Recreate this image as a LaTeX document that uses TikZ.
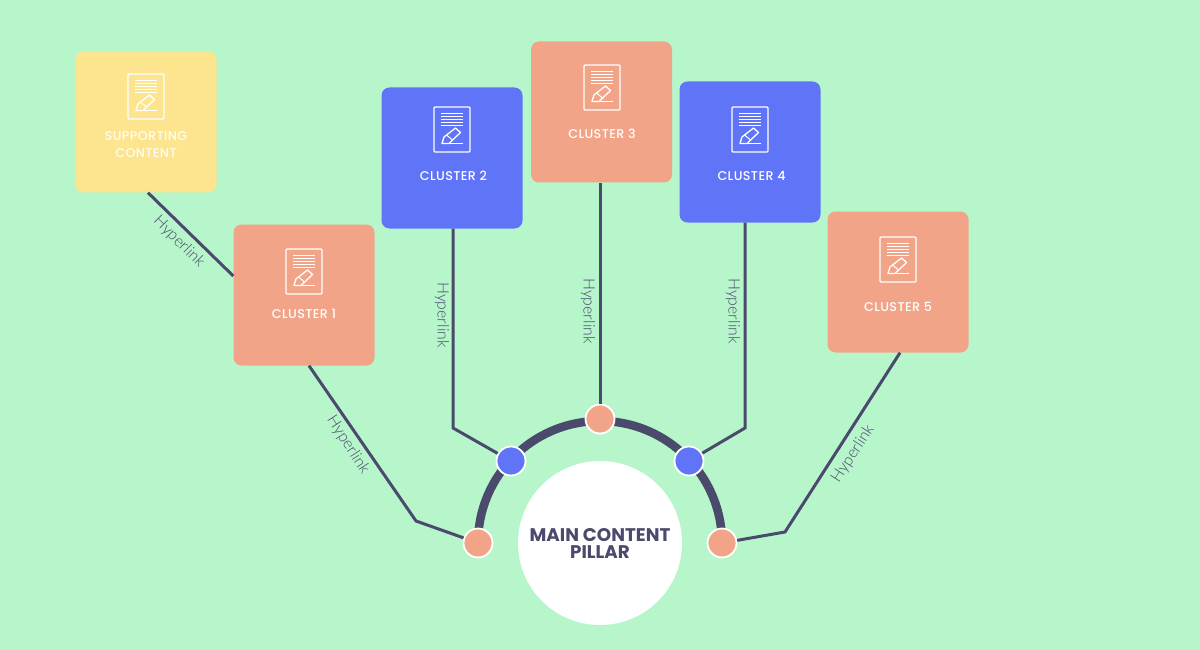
\documentclass[tikz,border=0pt]{standalone}
\usepackage{fontspec}
\setmainfont{Poppins}
\newfontfamily\cardfont[LetterSpace=3]{Poppins Medium}
\newfontfamily\linkfont{Lato Light}
\definecolor{bgc}{HTML}{B7F6CA}
\definecolor{peach}{HTML}{F2A488}
\definecolor{bluec}{HTML}{6074F8}
\definecolor{yell}{HTML}{FCE58E}
\definecolor{ink}{HTML}{4A4A6C}
\tikzset{
  card/.style={rounded corners=8pt,minimum width=141pt,minimum height=141pt,inner sep=0pt},
  cardtext/.style={text=white,font=\cardfont\fontsize{12.7}{16.5}\selectfont,align=center},
  dot/.style={circle,draw=white,line width=1.8pt,minimum size=29pt,inner sep=0pt},
  link/.style={ink,line width=3pt,line join=miter},
  linklabel/.style={text=ink,font=\linkfont\fontsize{15.8}{18}\selectfont,inner sep=0pt},
  pics/docicon/.style={code={
    \draw[white,line width=1.2pt,rounded corners=1pt] (-18,-22.5) rectangle (18,22.5);
    \foreach \yy in {-16,-13,-10,-7,-4}{\draw[white,line width=1pt] (-11,\yy) -- (11,\yy);}
    \draw[white,line width=1.3pt,line join=round] (-10,14) -- (-8,7.5) -- (3.5,-1.5) -- (8.5,3) -- (-3,14) -- cycle;
    \draw[white,line width=1pt] (-5.5,5.5) -- (0,10);
    \draw[white,line width=1.1pt] (-10,14.2) -- (11,14.2);
  }}
}
\begin{document}
\begin{tikzpicture}[x=1pt,y=-1pt]
\useasboundingbox (0,0) rectangle (1200,650);
\fill[bgc] (0,0) rectangle (1200,650);
% hub
\draw[ink,line width=8.5pt] (478,543) arc[start angle=180,end angle=360,radius=122];
\node[circle,fill=white,minimum size=164pt,inner sep=0pt,text=ink,align=center,font=\bfseries\fontsize{18.3}{17}\selectfont] (hub) at (600,543) {MAIN CONTENT\\PILLAR};
\node[dot,fill=peach] (d1) at (478,543) {};
\node[dot,fill=bluec] (d2) at (511,461) {};
\node[dot,fill=peach] (d3) at (600,419) {};
\node[dot,fill=bluec] (d4) at (689,461) {};
\node[dot,fill=peach] (d5) at (722,543) {};
% cards
\node[card,fill=yell] (s) at (146,122) {};
\node[card,fill=peach] (c1) at (304,295) {};
\node[card,fill=bluec] (c2) at (452,158) {};
\node[card,fill=peach] (c3) at (601.5,112) {};
\node[card,fill=bluec] (c4) at (750,152) {};
\node[card,fill=peach] (c5) at (898,282) {};
\pic at (146,96.5) {docicon};
\pic at (304,271.5) {docicon};
\pic at (452,129.5) {docicon};
\pic at (602,87.5) {docicon};
\pic at (750,129.5) {docicon};
\pic at (898,259.5) {docicon};
\node[cardtext,opacity=.9] (ts) at (146,144.5) {SUPPORTING\\CONTENT};
\node[cardtext] (t1) at (304,313.5) {CLUSTER 1};
\node[cardtext] (t2) at (453.5,175.5) {CLUSTER 2};
\node[cardtext] (t3) at (602,133.5) {CLUSTER 3};
\node[cardtext] (t4) at (751.5,175.5) {CLUSTER 4};
\node[cardtext] (t5) at (898,306.5) {CLUSTER 5};
% bends
\coordinate (b1) at (416,521);
\coordinate (b2) at (453,428);
\coordinate (b4) at (745,428);
\coordinate (b5) at (785,532);
% connectors
\draw[link] ([xshift=2pt]s.south) -- ([yshift=19pt]c1.west);
\draw[link] ([xshift=5pt]c1.south) -- (b1) -- (d1);
\draw[link] ([xshift=1pt]c2.south) -- (b2) -- (d2);
\draw[link] ([xshift=-1.5pt]c3.south) -- (d3);
\draw[link] ([xshift=-5pt]c4.south) -- (b4) -- (d4);
\draw[link] ([xshift=2pt]c5.south) -- (b5) -- (d5);
% labels
\node[linklabel,rotate=-45] (l0) at (179,242) {Hyperlink};
\node[linklabel,rotate=-57] (l1) at (348,445) {Hyperlink};
\node[linklabel,rotate=-90] (l2) at (442,315) {Hyperlink};
\node[linklabel,rotate=-90] (l3) at (588,311) {Hyperlink};
\node[linklabel,rotate=-90] (l4) at (733,311) {Hyperlink};
\node[linklabel,rotate=57] (l5) at (853,454) {Hyperlink};
\end{tikzpicture}
\end{document}
